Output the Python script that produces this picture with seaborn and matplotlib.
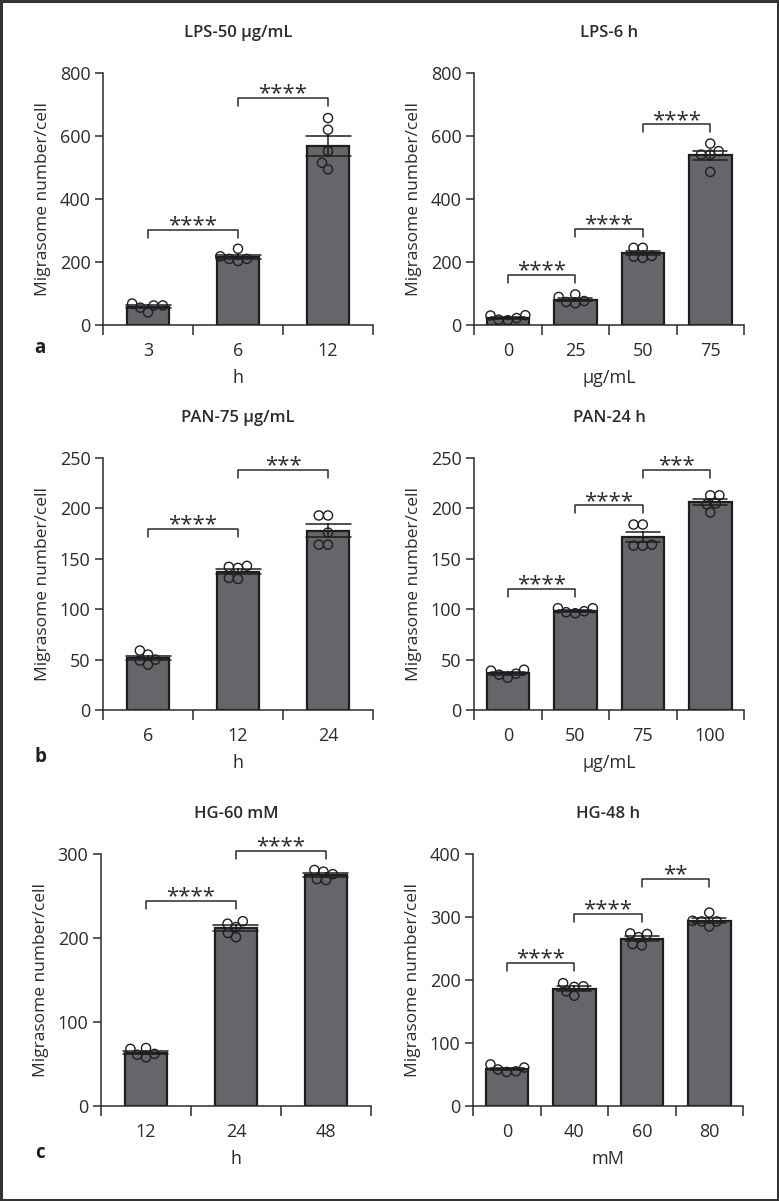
import numpy as np
import pandas as pd
import matplotlib.pyplot as plt
import seaborn as sns
from matplotlib.patches import Rectangle
from matplotlib.ticker import FixedLocator, NullFormatter

sns.set_style("white")
plt.rcParams['font.family'] = ['Open Sans', 'DejaVu Sans']
plt.rcParams['text.color'] = '#2b2b2b'
plt.rcParams['axes.labelcolor'] = '#2b2b2b'
plt.rcParams['xtick.color'] = '#2b2b2b'
plt.rcParams['ytick.color'] = '#2b2b2b'

##data (5 cells per group)
lps_time_groups = ['3', '6', '12']
lps_time_vals = [[62, 62, 40, 55, 68],
                 [242, 210, 203, 210, 218],
                 [620, 494, 552, 657, 515]]
lps_dose_groups = ['0', '25', '50', '75']
lps_dose_vals = [[30, 22, 15, 17, 31],
                 [97, 76, 69, 73, 89],
                 [245, 219, 213, 217, 245],
                 [576, 541, 486, 541, 552]]
pan_time_groups = ['6', '12', '24']
pan_time_vals = [[49, 45, 59, 50, 55],
                 [141, 130, 143, 131, 142],
                 [193, 193, 176, 164, 164]]
pan_dose_groups = ['0', '50', '75', '100']
pan_dose_vals = [[40, 35, 32, 36, 39],
                 [101, 97, 96, 98, 101],
                 [184, 184, 163, 163, 164],
                 [205, 213, 196, 213, 204]]
hg_time_groups = ['12', '24', '48']
hg_time_vals = [[68, 62, 58, 61, 69],
                [213, 201, 220, 206, 217],
                [281, 276, 269, 270, 279]]
hg_dose_groups = ['0', '40', '60', '80']
hg_dose_vals = [[66, 58, 54, 55, 61],
                [189, 175, 195, 182, 190],
                [268, 255, 274, 257, 273],
                [293, 285, 307, 293, 294]]

##significance: (left group, right group, bracket height, label)
lps_time_sig = [(0, 1, 303, '****'), (1, 2, 720, '****')]
lps_dose_sig = [(0, 1, 159, '****'), (1, 2, 305, '****'), (2, 3, 637, '****')]
pan_time_sig = [(0, 1, 180, '****'), (1, 2, 238, '***')]
pan_dose_sig = [(0, 1, 120, '****'), (1, 2, 203, '****'), (2, 3, 238, '***')]
hg_time_sig = [(0, 1, 244, '****'), (1, 2, 304, '****')]
hg_dose_sig = [(0, 1, 227, '****'), (1, 2, 305, '****'), (2, 3, 361, '**')]

panels = [
    ('LPS-50 µg/mL', lps_time_groups, lps_time_vals, lps_time_sig, 'h', 800, 200),
    ('LPS-6 h', lps_dose_groups, lps_dose_vals, lps_dose_sig, 'µg/mL', 800, 200),
    ('PAN-75 µg/mL', pan_time_groups, pan_time_vals, pan_time_sig, 'h', 250, 50),
    ('PAN-24 h', pan_dose_groups, pan_dose_vals, pan_dose_sig, 'µg/mL', 250, 50),
    ('HG-60 mM', hg_time_groups, hg_time_vals, hg_time_sig, 'h', 300, 100),
    ('HG-48 h', hg_dose_groups, hg_dose_vals, hg_dose_sig, 'mM', 400, 100),
]

W, H = 779, 1201
fig = plt.figure(figsize=(W / 100, H / 100), dpi=100)

ax_w, ax_h = 270, 252
lefts = [(103, 474), (103, 474), (101, 473)]
bottoms = [325, 710, 1106]
ink = '#2b2b2b'
swarms = []

for i, (title, groups, vals, sig, xlab, ymax, ystep) in enumerate(panels):
    r, c = divmod(i, 2)
    x0 = lefts[r][c]
    ax = fig.add_axes([x0 / W, (H - bottoms[r]) / H, ax_w / W, ax_h / H])
    n = len(groups)
    df = pd.DataFrame({'group': np.repeat(groups, 5),
                       'value': np.concatenate(vals)})
    bar_w = 42.5 / (ax_w / n)
    sns.barplot(data=df, x='group', y='value', order=groups, ax=ax,
                errorbar='se', capsize=0.5, width=bar_w,
                color='#65666a', saturation=1, edgecolor='#1e1e1e', linewidth=1.6,
                err_kws={'color': '#1e1e1e', 'linewidth': 1.1, 'zorder': 5})
    # swarm laid out with small markers so the circles overlap a bit like the original
    sns.swarmplot(data=df, x='group', y='value', order=groups, ax=ax,
                  size=5.3, facecolor='none', edgecolor='#1e1e1e', linewidth=1.0,
                  zorder=4)
    for coll in ax.collections:
        coll.set_facecolor('none')
        coll.set_edgecolor('#1e1e1e')
        swarms.append(coll)

    ax.set_xlim(-0.5, n - 0.5)
    ax.set_ylim(0, ymax)
    ax.set_yticks(np.arange(0, ymax + 1, ystep))
    ax.xaxis.set_minor_locator(FixedLocator(np.arange(-0.5, n, 1.0)))
    ax.xaxis.set_minor_formatter(NullFormatter())
    ax.tick_params(axis='x', which='major', length=0, pad=12, labelsize=13)
    ax.tick_params(axis='x', which='minor', length=7, width=1.1, direction='out', bottom=True)
    ax.tick_params(axis='y', length=6, width=1.1, direction='out', pad=3, labelsize=13, left=True)
    sns.despine(ax=ax)
    for s in ['left', 'bottom']:
        ax.spines[s].set_linewidth(1.1)
        ax.spines[s].set_color(ink)
    ax.set_xlabel(xlab, fontsize=13, labelpad=7)
    ax.set_ylabel('Migrasome number/cell', fontsize=12.5, labelpad=6)
    ax.set_title(title, fontsize=12, fontweight='semibold', pad=26)

    # significance brackets
    leg = 8 / ax_h * ymax
    for a, b, y, lab in sig:
        ax.plot([a, a, b, b], [y - leg, y, y, y - leg], color=ink, lw=1.1,
                clip_on=False, zorder=6)
        ax.text((a + b) / 2, y - 1.5 / ax_h * ymax, lab, ha='center', va='baseline',
                fontsize=16, color=ink, clip_on=False)

# run the swarm layout once, then freeze it and enlarge the circles
fig.canvas.draw()
for coll in swarms:
    if 'draw' in coll.__dict__:
        del coll.draw
    coll.set_sizes([6.6 ** 2])

# panel letters
for letter, ypix in [('a', 348), ('b', 757), ('c', 1153)]:
    fig.text(40 / W, 1 - ypix / H, letter, fontsize=13.5, fontweight='bold',
             ha='center', va='center', color='#1e1e1e')

# frame round the figure
fig.patches.append(Rectangle((0.001, 0.001), 0.998, 0.998, transform=fig.transFigure,
                             fill=False, edgecolor='#333333', linewidth=2.2))

fig.savefig('out.png', dpi=100)
